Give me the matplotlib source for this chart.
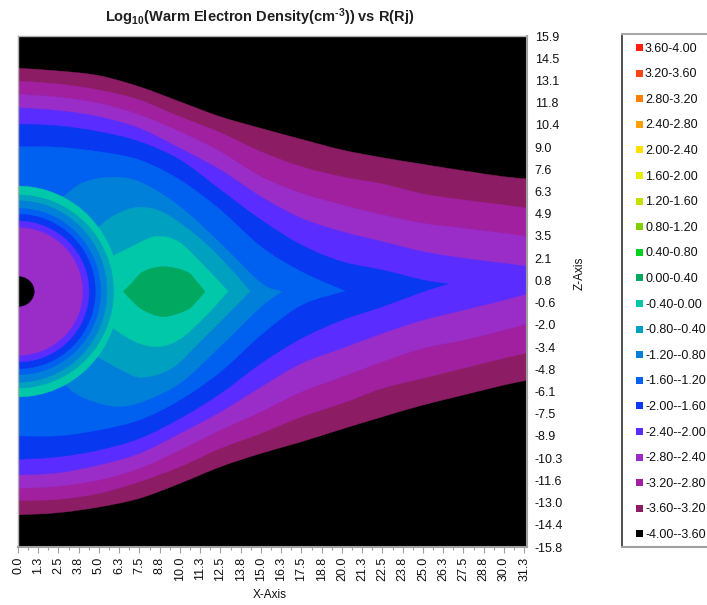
# -*- coding: utf-8 -*-
"""
Log10(Warm Electron Density) vs R(Rj) - filled contour bands in the X-Z plane
"""

import numpy as np
import matplotlib
matplotlib.use("Agg")
import matplotlib.pyplot as plt
from matplotlib.patches import Ellipse, PathPatch, Rectangle
from matplotlib.lines import Line2D
from matplotlib.path import Path

plt.rcParams["font.family"] = ["Liberation Sans", "DejaVu Sans"]
plt.rcParams["mathtext.fontset"] = "custom"
plt.rcParams["mathtext.bf"] = "Liberation Sans:bold"
plt.rcParams["mathtext.rm"] = "Liberation Sans:bold"

# ------------------------------------------------------------
# 0) data
# ------------------------------------------------------------
legend_labels = ["3.60-4.00", "3.20-3.60", "2.80-3.20", "2.40-2.80", "2.00-2.40",
                 "1.60-2.00", "1.20-1.60", "0.80-1.20", "0.40-0.80", "0.00-0.40",
                 "-0.40-0.00", "-0.80--0.40", "-1.20--0.80", "-1.60--1.20", "-2.00--1.60",
                 "-2.40--2.00", "-2.80--2.40", "-3.20--2.80", "-3.60--3.20", "-4.00--3.60"]
legend_colors = ["#ff2010", "#ff4414", "#ff8000", "#ffa000", "#ffe000",
                 "#e8f000", "#c8e000", "#80d000", "#00d020", "#00a860",
                 "#00c8a8", "#00a0c0", "#0080d8", "#0060f0", "#0838f0",
                 "#5a2cff", "#9a2cc8", "#a020a0", "#8c1c64", "#000000"]

x_labels = ["0.0", "1.3", "2.5", "3.8", "5.0", "6.3", "7.5", "8.8", "10.0", "11.3", "12.5", "13.8", "15.0",
            "16.3", "17.5", "18.8", "20.0", "21.3", "22.5", "23.8", "25.0", "26.3", "27.5", "28.8", "30.0", "31.3"]
z_labels = ["15.9", "14.5", "13.1", "11.8", "10.4", "9.0", "7.6", "6.3", "4.9", "3.5", "2.1", "0.8",
            "-0.6", "-2.0", "-3.4", "-4.8", "-6.1", "-7.5", "-8.9", "-10.3", "-11.6", "-13.0", "-14.4", "-15.8"]

x_full = [0, 2.5, 5, 7.5, 10, 12.5, 15, 17.5, 20, 22.5, 25, 27.5, 30, 31.5]

up_m36 = [13.85, 13.68, 13.39, 12.70, 11.77, 10.84, 10.12, 9.44, 8.78, 8.30, 7.89, 7.49, 7.12, 6.98]
lo_m36 = [-13.86, -13.72, -13.37, -12.83, -11.90, -10.87, -10.04, -9.32, -8.53, -7.77, -7.04, -6.42, -5.80, -5.49]
up_m32 = [13.06, 12.87, 12.50, 11.88, 10.84, 9.85, 8.67, 7.74, 7.12, 6.67, 6.05, 5.68, 5.37, 5.16]
lo_m32 = [-12.98, -12.89, -12.52, -11.80, -10.87, -9.73, -8.80, -7.77, -6.94, -6.00, -5.38, -4.76, -4.14, -3.80]
up_m28 = [12.23, 12.05, 11.67, 10.95, 9.91, 8.67, 7.12, 6.09, 5.37, 4.75, 4.23, 3.92, 3.61, 3.40]
lo_m28 = [-12.21, -12.07, -11.69, -10.97, -9.83, -8.59, -7.46, -6.22, -5.29, -4.35, -3.52, -3.01, -2.39, -1.97]
up_m24 = [11.40, 11.22, 10.84, 10.12, 8.88, 7.54, 5.88, 4.54, 3.71, 3.09, 2.47, 2.06, 1.75, 1.54]
lo_m24 = [-11.38, -11.24, -10.76, -10.04, -8.80, -7.46, -5.91, -4.45, -3.52, -2.59, -1.77, -1.15, -0.53, -0.11]

x_m20 = [0, 2.5, 5, 7.5, 10, 12.5, 15, 17.5, 20, 22.5, 25, 26.54]
up_m20 = [10.39, 10.27, 9.91, 9.29, 8.16, 6.30, 4.44, 2.88, 1.85, 1.33, 0.71, 0.47]
lo_m20 = [-10.41, -10.25, -9.83, -9.11, -7.87, -6.32, -4.45, -2.90, -1.77, -0.94, -0.01, 0.47]

x_m16 = [0, 2.5, 5, 7.5, 10, 12.5, 15, 17.5, 20.19]
up_m16 = [8.98, 8.95, 8.67, 8.16, 6.92, 5.06, 2.78, 1.23, 0.03]
lo_m16 = [-8.96, -8.95, -8.59, -7.97, -6.73, -4.98, -2.70, -0.84, 0.03]

x_up_m12 = [2.8, 3.93, 5.56, 7.49, 10.0, 12.47, 15.0, 16.30]
up_m12 = [5.88, 6.71, 7.08, 6.81, 5.26, 3.01, 0.53, 0.0]
x_lo_m12 = [2.9, 3.93, 5.78, 7.49, 10.0, 12.47, 15.0, 16.30]
lo_m12 = [-5.80, -6.53, -7.10, -6.90, -5.68, -3.42, -0.94, 0.0]

x_up_m08 = [4.9, 5.99, 7.43, 9.07, 11.34, 13.19, 14.32]
up_m08 = [3.94, 4.75, 5.22, 4.85, 3.19, 1.33, 0.0]
x_lo_m08 = [4.9, 6.40, 7.64, 9.49, 11.34, 13.19, 14.32]
lo_m08 = [-4.04, -4.87, -5.32, -4.76, -3.01, -1.15, 0.0]

x_m04 = [5.6, 7.02, 8.46, 9.90, 11.54, 12.96]
up_m04 = [2.06, 2.78, 3.40, 3.09, 1.54, 0.0]
lo_m04 = [-2.08, -3.01, -3.42, -3.01, -1.56, 0.0]

x_p00 = [6.50, 7.02, 7.73, 8.97, 10.41, 11.03, 11.54]
up_p00 = [0.0, 0.51, 1.23, 1.54, 1.23, 0.61, 0.0]
lo_p00 = [0.0, -0.55, -1.15, -1.56, -1.15, -0.60, 0.0]

# rings round the planet, outside to inside, and the inner black core
ring_rx = [6.25, 5.90, 5.49, 5.10, 4.77, 4.38, 3.99, 1.0]
ring_rz = [6.54, 5.99, 5.63, 5.16, 4.79, 4.37, 3.96, 0.93]
ring_colors = ["#00c8a8", "#00a0c0", "#0080d8", "#0060f0", "#0838f0", "#5a2cff", "#9a2cc8", "#000000"]

# ------------------------------------------------------------
# 1) figure
# ------------------------------------------------------------
fig = plt.figure(figsize=(7.07, 6.05), dpi=100)
W, H = 707.0, 605.0
ax = fig.add_axes([18 / W, 1 - 547 / H, 509 / W, 511 / H])
ax.set_facecolor("#000000")


def bezier_segments(pts):
    # Catmull-Rom through the read points, as cubic bezier control points
    pts = np.asarray(pts, dtype=float)
    before = np.vstack([pts[0], pts[:-1]])
    after = np.vstack([pts[1:], pts[-1]])
    tang = (after - before) / 6.0
    verts, codes = [], []
    for i in range(len(pts) - 1):
        verts += [pts[i] + tang[i], pts[i + 1] - tang[i + 1], pts[i + 1]]
        codes += [Path.CURVE4] * 3
    return verts, codes


def fill_band(x_up, z_up, x_lo, z_lo, color):
    up = list(zip(x_up, z_up))
    lo = list(zip(x_lo, z_lo))[::-1]
    v1, c1 = bezier_segments(up)
    v2, c2 = bezier_segments(lo)
    verts = [up[0]] + v1 + [lo[0]] + v2 + [up[0]]
    codes = [Path.MOVETO] + c1 + [Path.LINETO] + c2 + [Path.CLOSEPOLY]
    ax.add_patch(PathPatch(Path(verts, codes), fc=color, ec=color, lw=0.3))


fill_band(x_full, up_m36, x_full, lo_m36, "#8c1c64")
fill_band(x_full, up_m32, x_full, lo_m32, "#a020a0")
fill_band(x_full, up_m28, x_full, lo_m28, "#9a2cc8")
fill_band(x_full, up_m24, x_full, lo_m24, "#5a2cff")
fill_band(x_m20, up_m20, x_m20, lo_m20, "#0838f0")
fill_band(x_m16, up_m16, x_m16, lo_m16, "#0060f0")
fill_band(x_up_m12, up_m12, x_lo_m12, lo_m12, "#0080d8")
fill_band(x_up_m08, up_m08, x_lo_m08, lo_m08, "#00a0c0")
fill_band(x_m04, up_m04, x_m04, lo_m04, "#00c8a8")
fill_band(x_p00, up_p00, x_p00, lo_p00, "#00a860")

for rx, rz, c in zip(ring_rx, ring_rz, ring_colors):
    ax.add_patch(Ellipse((0, 0), 2 * rx, 2 * rz, fc=c, ec=c, lw=0.3))

ax.set_xlim(0, 31.42)
ax.set_ylim(-15.85, 15.85)

# ------------------------------------------------------------
# 2) axes, ticks
# ------------------------------------------------------------
for side in ["top", "left"]:
    ax.spines[side].set_color("#b0b0b0")
    ax.spines[side].set_linewidth(1.0)
for side in ["right", "bottom"]:
    ax.spines[side].set_color("#a0a0a0")
    ax.spines[side].set_linewidth(1.5)

x_pos = np.arange(len(x_labels)) * 1.25
ax.set_xticks(x_pos)
ax.set_xticklabels(x_labels, rotation=90, fontsize=9, color="#101010")
ax.set_xticks(x_pos[:-1] + 0.625, minor=True)
ax.tick_params(axis="x", which="major", length=4, width=0.8, color="#a0a0a0", pad=3)
ax.tick_params(axis="x", which="minor", length=2, width=0.8, color="#a0a0a0")

z_pos = np.linspace(15.85, -15.85, len(z_labels))
ax.yaxis.tick_right()
ax.set_yticks(z_pos)
ax.set_yticklabels(z_labels, fontsize=9, color="#101010")
ax.set_yticks(z_pos[::5], minor=True)
ax.tick_params(axis="y", which="major", length=0, pad=5.5)
ax.tick_params(axis="y", which="minor", length=3, width=0.8, color="#a0a0a0")

fig.text(270 / W, 1 - 595 / H, "X-Axis", ha="center", va="center", fontsize=8.5, color="#101010")
fig.text(580 / W, 1 - 273 / H, "Z-Axis", ha="center", va="center", rotation=90, fontsize=8.5, color="#101010")
fig.text(260 / W, 1 - 17 / H, r"$\mathbf{Log_{10}(Warm\;Electron\;Density(cm^{\text{-}3}))\;vs\;R(Rj)}$",
         ha="center", va="center", fontsize=10.5, color="#202020")

# ------------------------------------------------------------
# 3) legend box
# ------------------------------------------------------------
fig.add_artist(Line2D([622 / W, 622 / W], [1 - 547 / H, 1 - 34 / H], transform=fig.transFigure,
                      color="#303030", lw=1.2))
fig.add_artist(Line2D([622 / W, 1], [1 - 34 / H, 1 - 34 / H], transform=fig.transFigure,
                      color="#a8a8a8", lw=1.5))
fig.add_artist(Line2D([622 / W, 1], [1 - 547 / H, 1 - 547 / H], transform=fig.transFigure,
                      color="#a0a0a0", lw=1.5))
for i, (lab, c) in enumerate(zip(legend_labels, legend_colors)):
    y = 47.5 + 25.6 * i
    fig.add_artist(Rectangle((636 / W, 1 - (y + 3.5) / H), 7 / W, 7 / H, transform=fig.transFigure,
                             fc=c, ec="none"))
    fig.text(645 / W, 1 - (y + 1) / H, lab, ha="left", va="center", fontsize=9, color="#101010")

plt.savefig("out.png", dpi=100)
plt.close()
